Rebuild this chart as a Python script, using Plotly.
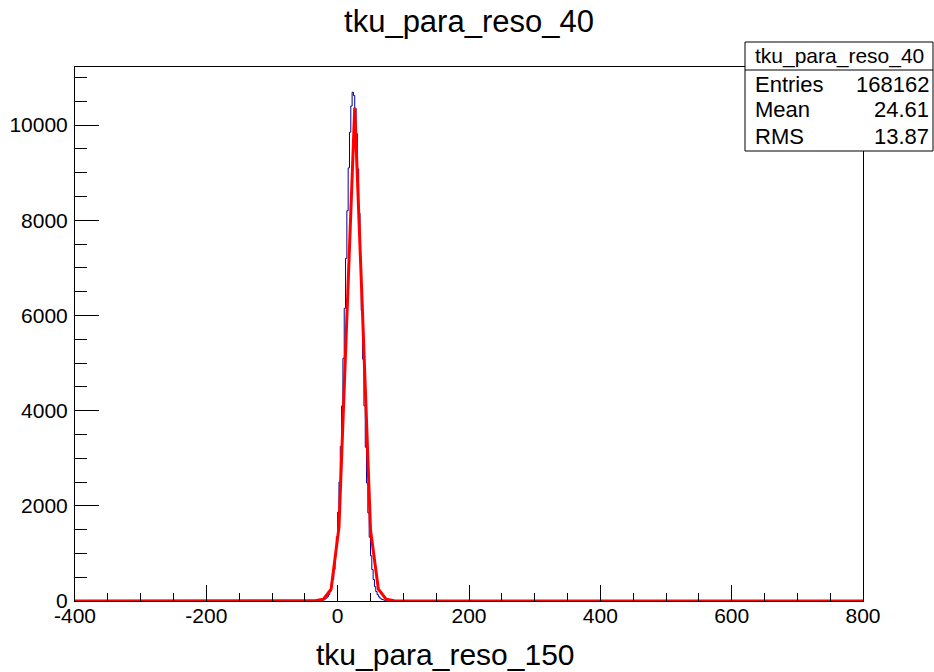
import numpy as np
import plotly.graph_objects as go

# ---------------- data ----------------
TITLE = "tku_para_reso_40"
X_TITLE = "tku_para_reso_150"

X_MIN, X_MAX = -400, 800
BIN_WIDTH = 2
FIT_STEP = 12

# histogram bins (centre, counts) in the peak region; other bins are ~0
peak_bin_centers = [-31, -29, -27, -25, -23, -21, -19, -17, -15, -13, -11, -9, -7, -5, -3, -1,
                    1, 3, 5, 7, 9, 11, 13, 15, 17, 19, 21, 23, 25, 27, 29, 31, 33, 35, 37, 39,
                    41, 43, 45, 47, 49, 51, 53, 55, 57, 59, 61, 63, 65, 67, 69, 71, 73, 75, 77, 79]
peak_counts = [3, 5, 8, 12, 18, 28, 40, 60, 90, 135, 200, 300, 450, 660, 950, 1350,
               1870, 2500, 3250, 4100, 5100, 6150, 7200, 8200, 9100, 9850, 10400, 10690, 10620, 10350, 9820, 9080,
               8150, 7150, 6100, 5080, 4100, 3230, 2480, 1850, 1340, 950, 660, 450, 300, 200,
               135, 90, 60, 40, 28, 18, 12, 8, 5, 3]

# fitted curve sample points (red polyline) in the peak region; zero elsewhere
fit_peak_x = [-34, -22, -10, 2, 14, 26, 38, 50, 62, 74, 86]
fit_peak_y = [5, 35, 250, 1550, 6100, 10360, 6000, 1500, 250, 35, 5]

# stats box
stats_labels = ["Entries", "Mean", "RMS"]
stats_values = ["168162", "24.61", "13.87"]

# axis ticks
x_tickvals = [-400, -200, 0, 200, 400, 600, 800]
x_ticktext = ["-400", "-200", "0", "200", "400", "600", "800"]
y_tickvals = [0, 2000, 4000, 6000, 8000, 10000]
y_ticktext = ["0", "2000", "4000", "6000", "8000", "10000"]
Y_MAX = 11220

# ---------------- build arrays ----------------
edges = np.arange(X_MIN, X_MAX + BIN_WIDTH, BIN_WIDTH)
centers = edges[:-1] + BIN_WIDTH / 2
counts = np.zeros(len(centers))
for c, v in zip(peak_bin_centers, peak_counts):
    idx = int(round((c - X_MIN - BIN_WIDTH / 2) / BIN_WIDTH))
    counts[idx] = v
step_x = np.repeat(edges, 2)[1:-1]
step_y = np.repeat(counts, 2)

fit_x = np.arange(X_MIN + FIT_STEP / 2, X_MAX, FIT_STEP)
fit_y = np.zeros(len(fit_x))
for xv, yv in zip(fit_peak_x, fit_peak_y):
    idx = int(np.argmin(np.abs(fit_x - xv)))
    fit_y[idx] = yv
fit_x = np.concatenate([[X_MIN], fit_x, [X_MAX]])
fit_y = np.concatenate([[0], fit_y, [0]])

FONT = "Liberation Sans, Arial, Helvetica, sans-serif"

fig = go.Figure()
fig.add_trace(go.Scatter(x=step_x, y=step_y, mode="lines",
                         line=dict(color="#000090", width=1), hoverinfo="skip"))
fig.add_trace(go.Scatter(x=fit_x, y=fit_y, mode="lines",
                         line=dict(color="#ff0000", width=3), hoverinfo="skip"))

W, H = 934, 672
L, R, T, B = 75, 71, 67, 71
PW, PH = W - L - R, H - T - B

def px_x(p):
    return (p - L) / PW

def px_y(p):
    return (H - B - p) / PH

fig.update_layout(
    width=W, height=H,
    margin=dict(l=L, r=R, t=T, b=B, pad=0, autoexpand=False),
    paper_bgcolor="white", plot_bgcolor="white",
    showlegend=False,
    font=dict(family=FONT, color="black", size=21),
    title=dict(text=TITLE, x=0.5, xanchor="center", xref="paper",
               y=1 - 21 / H, yanchor="middle", yref="container",
               font=dict(family=FONT, size=31, color="black")),
)
fig.update_xaxes(range=[X_MIN, X_MAX], showgrid=False, zeroline=False, automargin=False,
                 showline=True, linecolor="black", linewidth=1, mirror=True,
                 ticks="inside", ticklen=16, tickwidth=1, tickcolor="black",
                 tickvals=x_tickvals, ticktext=x_ticktext, ticklabelstandoff=-4,
                 tickfont=dict(family=FONT, size=21, color="black"),
                 minor=dict(ticks="inside", ticklen=8, dtick=50, tickcolor="black", tickwidth=1, showgrid=False))
fig.update_yaxes(range=[0, Y_MAX], showgrid=False, zeroline=False, automargin=False,
                 showline=True, linecolor="black", linewidth=1, mirror=True,
                 ticks="inside", ticklen=24, tickwidth=1, tickcolor="black",
                 tickvals=y_tickvals, ticktext=y_ticktext, ticklabelstandoff=2,
                 tickfont=dict(family=FONT, size=21, color="black"),
                 minor=dict(ticks="inside", ticklen=12, dtick=500, tickcolor="black", tickwidth=1, showgrid=False))

# x-axis title
fig.add_annotation(text=X_TITLE, xref="paper", yref="paper", x=px_x(445), y=px_y(654),
                   xanchor="center", yanchor="middle", showarrow=False,
                   font=dict(family=FONT, size=30, color="black"))

# stats box
bx0, bx1, by0, by1, bsep = 745, 933, 42, 151, 70
fig.add_shape(type="rect", xref="paper", yref="paper",
              x0=px_x(bx0), x1=px_x(bx1), y0=px_y(by1), y1=px_y(by0),
              line=dict(color="black", width=1), fillcolor="white", layer="above")
fig.add_shape(type="line", xref="paper", yref="paper",
              x0=px_x(bx0), x1=px_x(bx1), y0=px_y(bsep), y1=px_y(bsep),
              line=dict(color="black", width=1), layer="above")
fig.add_annotation(text=TITLE, xref="paper", yref="paper", x=px_x((bx0 + bx1) / 2), y=px_y(56),
                   xanchor="center", yanchor="middle", showarrow=False,
                   font=dict(family=FONT, size=21, color="black"))
row_y = [85, 110, 136]
for lab, val, ry in zip(stats_labels, stats_values, row_y):
    fig.add_annotation(text=lab, xref="paper", yref="paper", x=px_x(753), y=px_y(ry),
                       xanchor="left", yanchor="middle", showarrow=False,
                       font=dict(family=FONT, size=22, color="black"))
    fig.add_annotation(text=val, xref="paper", yref="paper", x=px_x(931), y=px_y(ry),
                       xanchor="right", yanchor="middle", showarrow=False,
                       font=dict(family=FONT, size=22, color="black"))

fig.write_html("out.html")
